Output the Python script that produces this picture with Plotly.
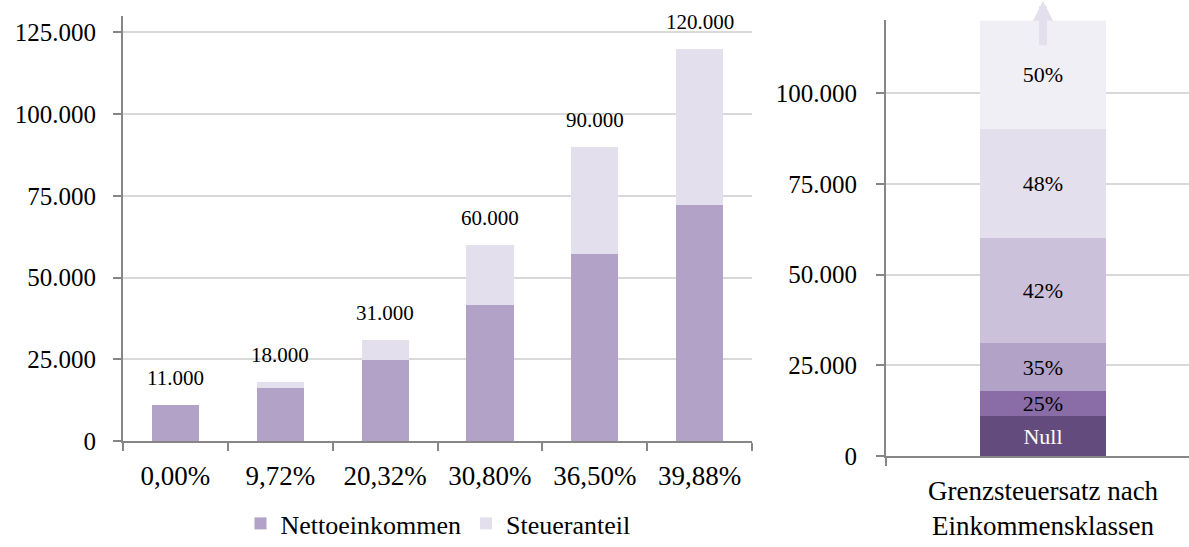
import plotly.graph_objects as go

# ---- data ----
rates = ["0,00%", "9,72%", "20,32%", "30,80%", "36,50%", "39,88%"]
brutto = [11000, 18000, 31000, 60000, 90000, 120000]
netto = [11000, 16250, 24700, 41520, 57150, 72140]
steuer = [0, 1750, 6300, 18480, 32850, 47860]

klasse = ["Grenzsteuersatz"]
seg_labels = ["Null", "25%", "35%", "42%", "48%", "50%"]
seg_sizes = [11000, 7000, 13000, 29000, 30000, 30000]
seg_colors = ["#634b7e", "#8a6ca6", "#b2a2c7", "#ccc1da", "#e4dfec", "#f1eff6"]
seg_textcolors = ["#ffffff", "#000000", "#000000", "#000000", "#000000", "#000000"]

FONT = "Liberation Serif"
AXIS = "#868686"
GRID = "#d9d9d9"

fig = go.Figure()

fig.add_trace(go.Bar(x=rates, y=netto, name="Nettoeinkommen",
                     marker=dict(color="#b2a2c7", line=dict(width=0)),
                     xaxis="x", yaxis="y", hoverinfo="skip"))
fig.add_trace(go.Bar(x=rates, y=steuer, name="Steueranteil",
                     marker=dict(color="#e4dfec", line=dict(width=0)),
                     xaxis="x", yaxis="y", hoverinfo="skip"))

for lab, size, col, tc in zip(seg_labels, seg_sizes, seg_colors, seg_textcolors):
    fig.add_trace(go.Bar(x=klasse, y=[size], name=lab, showlegend=False,
                         width=0.4,
                         marker=dict(color=col, line=dict(width=0)),
                         text=[lab], textposition="inside",
                         insidetextanchor="middle",
                         textfont=dict(family=FONT, size=22, color=tc),
                         xaxis="x2", yaxis="y2", hoverinfo="skip"))

annotations = []
for r, b in zip(rates, brutto):
    annotations.append(dict(x=r, y=b, xref="x", yref="y", text=f"{b:,}".replace(",", "."),
                            showarrow=False, yshift=27, yanchor="middle", xanchor="center",
                            font=dict(family=FONT, size=21, color="#000000")))

# arrow above the right bar
annotations.append(dict(x=klasse[0], y=1.045, xref="x2", yref="y2 domain", text="",
                        showarrow=True, ax=0, ay=46, arrowhead=2, arrowwidth=8,
                        arrowsize=0.5, arrowcolor="#e4dfec"))
# right x-axis title
annotations.append(dict(x=1043 / 1189, y=(547 - 508) / 547, xref="paper", yref="paper",
                        text="Grenzsteuersatz nach<br>Einkommensklassen",
                        showarrow=False, yanchor="middle", xanchor="center", align="center",
                        font=dict(family=FONT, size=27, color="#000000")))

fig.update_layout(
    width=1189, height=547,
    margin=dict(l=0, r=0, t=0, b=0, autoexpand=False),
    paper_bgcolor="white", plot_bgcolor="white",
    barmode="stack", bargap=0.55,
    separators=",.",
    font=dict(family=FONT, color="#000000"),
    uniformtext=dict(minsize=22, mode="show"),
    xaxis=dict(domain=[123 / 1189, 752 / 1189], type="category", anchor="y",
               automargin=False,
               showline=True, linecolor=AXIS, linewidth=2,
               ticks="outside", tickson="boundaries", ticklen=8, tickcolor=AXIS, tickwidth=2,
               tickfont=dict(family=FONT, size=27, color="#000000"),
               ticklabelstandoff=10, showgrid=False),
    yaxis=dict(domain=[(547 - 441) / 547, (547 - 16) / 547], range=[0, 130000],
               dtick=25000, tickformat=",d", anchor="x", automargin=False,
               showline=True, linecolor=AXIS, linewidth=2,
               ticks="outside", ticklen=8, tickcolor=AXIS, tickwidth=2,
               showgrid=True, gridcolor=GRID, gridwidth=1.5, zeroline=False,
               tickfont=dict(family=FONT, size=25, color="#000000"),
               ticklabelstandoff=12),
    xaxis2=dict(domain=[886 / 1189, 1.0], type="category", range=[-0.5, 0.465],
                anchor="y2", automargin=False,
                showline=True, linecolor=AXIS, linewidth=2,
                ticks="outside", tickson="boundaries", ticklen=8, tickcolor=AXIS, tickwidth=2,
                showticklabels=False, showgrid=False),
    yaxis2=dict(domain=[(547 - 456) / 547, (547 - 20.4) / 547], range=[0, 120000],
                dtick=25000, tickformat=",d", anchor="x2", automargin=False,
                showline=True, linecolor=AXIS, linewidth=2,
                ticks="outside", ticklen=8, tickcolor=AXIS, tickwidth=2,
                showgrid=True, gridcolor=GRID, gridwidth=1.5, zeroline=False,
                tickfont=dict(family=FONT, size=25, color="#000000"),
                ticklabelstandoff=14),
    legend=dict(orientation="h", x=438 / 1189, xanchor="center",
                y=0, yanchor="bottom",
                font=dict(family=FONT, size=26, color="#000000"),
                bgcolor="rgba(0,0,0,0)", traceorder="normal"),
    annotations=annotations,
    showlegend=True,
)

fig.write_html("out.html", config={"displayModeBar": False},
               post_script="document.body.style.margin='0px';")
